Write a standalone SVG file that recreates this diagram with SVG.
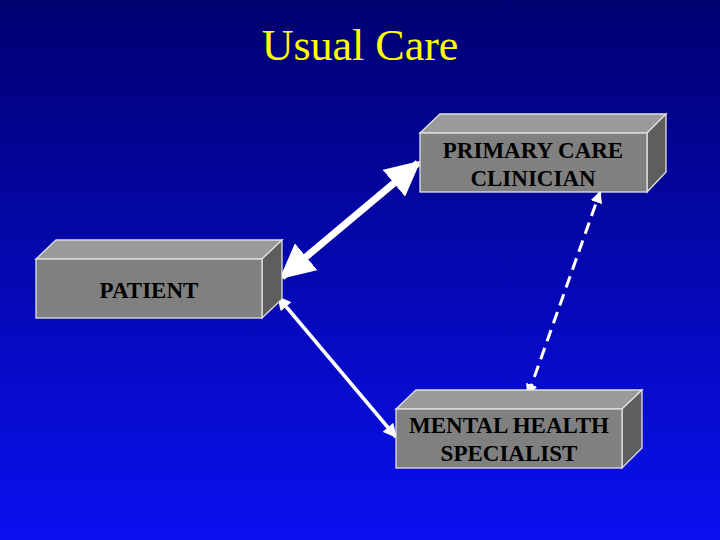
<svg xmlns="http://www.w3.org/2000/svg" width="720" height="540" viewBox="0 0 720 540">
<defs>
<linearGradient id="bg" x1="0" y1="0" x2="0" y2="1"><stop offset="0" stop-color="#000070"/><stop offset="1" stop-color="#0a10f0"/></linearGradient>
<marker id="big" viewBox="0 0 10 10" refX="9" refY="5" markerWidth="5" markerHeight="5" orient="auto-start-reverse" markerUnits="strokeWidth"><path d="M0,0L10,5L0,10z" fill="#fff"/></marker>
<marker id="sm" viewBox="0 0 10 10" refX="9" refY="5" markerWidth="4" markerHeight="4" orient="auto-start-reverse" markerUnits="strokeWidth"><path d="M0,0L10,5L0,10z" fill="#fff"/></marker>
<style>
.front{fill:#808080;stroke:#e0e0e0;stroke-width:1.3}
.top{fill:#9a9a9a;stroke:#e0e0e0;stroke-width:1.3}
.side{fill:#5e5e5e;stroke:#e0e0e0;stroke-width:1.3}
.lbl{font-family:"Liberation Serif",serif;font-size:23px;font-weight:bold;fill:#000;text-anchor:middle}
.c{stroke:#fff;fill:none}
</style>
</defs>
<rect width="720" height="540" fill="url(#bg)"/>
<text x="360" y="60" font-family="Liberation Serif,serif" font-size="44" fill="#ffff00" text-anchor="middle">Usual Care</text>
<g id="connectors">
<line class="c" x1="282" y1="277" x2="418" y2="163" stroke-width="7" marker-start="url(#big)" marker-end="url(#big)"/>
<line class="c" x1="278" y1="297" x2="396" y2="437" stroke-width="3.5" marker-start="url(#sm)" marker-end="url(#sm)"/>
<line class="c" x1="528" y1="395" x2="600" y2="192" stroke-width="3" stroke-dasharray="12,7" marker-start="url(#sm)" marker-end="url(#sm)"/>
</g>
<g id="pcc">
<polygon class="top" points="420,133 440,114 666,114 647,133"/>
<polygon class="side" points="647,133 666,114 666,172 647,192"/>
<rect class="front" x="420" y="133" width="227" height="59"/>
<text class="lbl" x="533" y="158">PRIMARY CARE</text>
<text class="lbl" x="533" y="186">CLINICIAN</text>
</g>
<g id="patient">
<polygon class="top" points="36,259 56,240 282,240 262,259"/>
<polygon class="side" points="262,259 282,240 282,299 262,318"/>
<rect class="front" x="36" y="259" width="226" height="59"/>
<text class="lbl" x="149" y="298">PATIENT</text>
</g>
<g id="mhs">
<polygon class="top" points="396,409 416,390 642,390 622,409"/>
<polygon class="side" points="622,409 642,390 642,448 622,468"/>
<rect class="front" x="396" y="409" width="226" height="59"/>
<text class="lbl" x="509" y="433">MENTAL HEALTH</text>
<text class="lbl" x="509" y="461">SPECIALIST</text>
</g>
</svg>
